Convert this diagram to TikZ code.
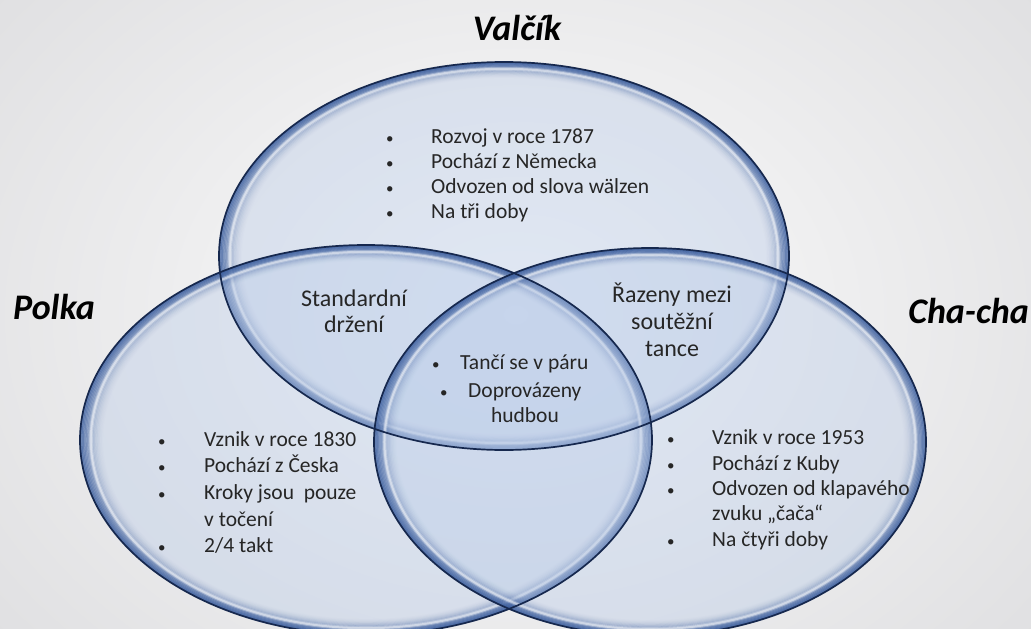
\documentclass[tikz,border=0pt]{standalone}
\usepackage{fontspec}
\setmainfont{Carlito}
\definecolor{bgout}{RGB}{224,224,226}
\definecolor{bgin}{RGB}{252,252,252}
\definecolor{vinner}{RGB}{185,203,232}
\definecolor{vrim}{RGB}{55,90,155}
\definecolor{vline}{RGB}{22,40,78}
\definecolor{txt}{RGB}{38,38,38}
\newcommand\bodyf{\fontsize{21.5}{25}\selectfont}
\newcommand\bigbodyf{\fontsize{24}{27}\selectfont}
\newcommand\bulf{\fontsize{15}{25}\selectfont}
\newcommand\titlef{\fontsize{36}{40}\selectfont\bfseries\itshape}
\tikzset{
  body/.style={font=\bodyf, text=txt, inner sep=0pt},
  bigbody/.style={font=\bigbodyf, text=txt, inner sep=0pt},
  bul/.style={font=\bulf, text=txt, inner sep=0pt, anchor=base west},
  ttl/.style={font=\titlef, text=black, inner sep=0pt},
  outline/.style={draw=vline, line width=1.7pt},
}
\newcommand\glassell[4]{%
 \fill[vinner, fill opacity=0.4] (#1,#2) ellipse [x radius=#3, y radius=#4];
 \begin{scope}
  \clip (#1,#2) ellipse [x radius=#3, y radius=#4];
  \foreach \i in {0,...,17}{
    \pgfmathsetmacro\op{0.62*(1-\i/18)^2}
    \pgfmathsetmacro\sc{1-0.0048*\i}
    \draw[vrim, line width=2.4pt, draw opacity=\op] (#1,#2) ellipse [x radius=#3*\sc, y radius=#4*\sc];
  }
  \draw[white, line width=4pt, draw opacity=0.25] (#1,#2) ellipse [x radius=#3*0.962, y radius=#4*0.965];
  \draw[white, line width=2pt, draw opacity=0.45] (#1,#2) ellipse [x radius=#3*0.962, y radius=#4*0.965];
 \end{scope}
}
\begin{document}
\begin{tikzpicture}[x=1pt,y=-1pt]
\useasboundingbox (0,0) rectangle (1031,629);
\clip (0,0) rectangle (1031,629);
\shade[inner color=bgin, outer color=bgout] (-150,-200) rectangle (1181,829);
% ellipses
\glassell{504}{256}{285}{194}
\glassell{366}{440}{286}{195}
\glassell{650}{442}{276}{194}
\draw[outline] (504,256) ellipse [x radius=285, y radius=194];
\draw[outline] (366,440) ellipse [x radius=286, y radius=195];
\draw[outline] (650,442) ellipse [x radius=276, y radius=194];
% titles
\node[ttl, anchor=base] (tv) at (517,40) {Valčík};
\node[ttl, anchor=base west] (tp) at (13,319) {Polka};
\node[ttl, anchor=base east] (tc) at (1029,323) {Cha-cha};
% Valcik list
\node[bul] (vb1) at (386,143) {•};
\node[body, anchor=base west] (vt1) at (431,143) {Rozvoj v roce 1787};
\node[bul] (vb2) at (386,168) {•};
\node[body, anchor=base west] (vt2) at (431,168) {Pochází z Německa};
\node[bul] (vb3) at (386,193) {•};
\node[body, anchor=base west] (vt3) at (431,193) {Odvozen od slova wälzen};
\node[bul] (vb4) at (386,218) {•};
\node[body, anchor=base west] (vt4) at (431,218) {Na tři doby};
% Polka list
\node[bul] (pb1) at (158,446) {•};
\node[body, anchor=base west] (pt1) at (204,446) {Vznik v roce 1830};
\node[bul] (pb2) at (158,472) {•};
\node[body, anchor=base west] (pt2) at (204,472) {Pochází z Česka};
\node[bul] (pb3) at (158,499) {•};
\node[body, anchor=base west] (pt3) at (204,499) {Kroky jsou \ pouze};
\node[body, anchor=base west] (pt3b) at (204,526) {v točení};
\node[bul] (pb4) at (158,552) {•};
\node[body, anchor=base west] (pt4) at (204,552) {2/4 takt};
% Cha-cha list
\node[bul] (cb1) at (667,444) {•};
\node[body, anchor=base west] (ct1) at (712,444) {Vznik v roce 1953};
\node[bul] (cb2) at (667,470) {•};
\node[body, anchor=base west] (ct2) at (712,470) {Pochází z Kuby};
\node[bul] (cb3) at (667,495) {•};
\node[body, anchor=base west] (ct3) at (712,495) {Odvozen od klapavého};
\node[body, anchor=base west] (ct3b) at (712,520) {zvuku „čača“};
\node[bul] (cb4) at (667,546) {•};
\node[body, anchor=base west] (ct4) at (712,546) {Na čtyři doby};
% intersections
\node[bigbody, anchor=base] (s1) at (354,306) {Standardní};
\node[bigbody, anchor=base] (s2) at (354,332) {držení};
\node[bigbody, anchor=base] (r1) at (672,302) {Řazeny mezi};
\node[bigbody, anchor=base] (r2) at (672,329) {soutěžní};
\node[bigbody, anchor=base] (r3) at (672,356) {tance};
\node[bul] (mb1) at (432,369) {•};
\node[body, anchor=base west] (mt1) at (460,369) {Tančí se v páru};
\node[bul] (mb2) at (440,397) {•};
\node[body, anchor=base west] (mt2) at (468,397) {Doprovázeny};
\node[body, anchor=base] (mt3) at (525,422) {hudbou};
\end{tikzpicture}
\end{document}
